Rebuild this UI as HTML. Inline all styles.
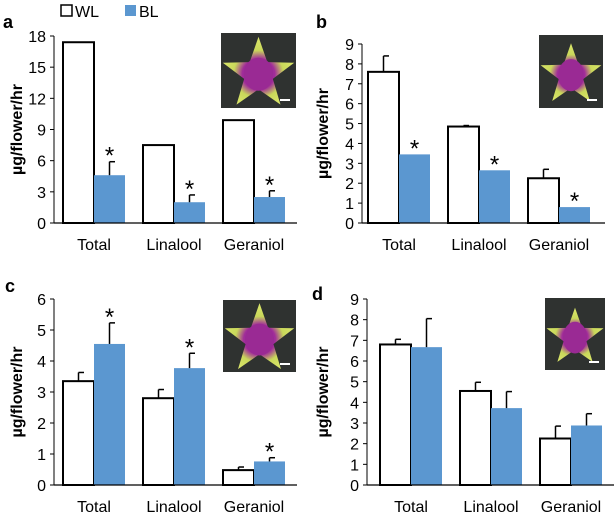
<!DOCTYPE html>
<html><head><meta charset="utf-8">
<style>
body{margin:0;background:#fff;}
svg text{font-family:"Liberation Sans",sans-serif;}
</style></head>
<body>
<svg id="chart" width="614" height="516" viewBox="0 0 614 516" xmlns="http://www.w3.org/2000/svg">
<defs>
<radialGradient id="fl" cx="50%" cy="55%" r="50%">
<stop offset="0" stop-color="#c070c0"/><stop offset="0.45" stop-color="#a02a9a"/><stop offset="0.7" stop-color="#c9d85a"/><stop offset="1" stop-color="#d8e468"/>
</radialGradient>
</defs>
<g>
<rect x="61" y="5" width="11" height="11" fill="#fff" stroke="#000" stroke-width="1.5"/>
<text x="75" y="17" font-size="16">WL</text>
<rect x="125" y="5" width="11" height="11" fill="#5b97d0"/>
<text x="139" y="17" font-size="16">BL</text>
</g>
</svg>
<script>
const categories=["Total","Linalool","Geraniol"];
const aWL=[17.4,7.5,9.9], aWLerr=[null,null,null], aBL=[4.6,2.0,2.5], aBLerr=[5.9,2.7,3.1], aTicks=[0,3,6,9,12,15,18], aStar=[true,true,true];
const bWL=[7.6,4.85,2.25], bWLerr=[8.4,4.9,2.7], bBL=[3.45,2.65,0.8], bBLerr=[null,null,null], bTicks=[0,1,2,3,4,5,6,7,8,9], bStar=[true,true,true];
const cWL=[3.35,2.8,0.48], cWLerr=[3.63,3.08,0.58], cBL=[4.55,3.77,0.76], cBLerr=[5.23,4.25,0.88], cTicks=[0,1,2,3,4,5,6], cStar=[true,true,true];
const dWL=[6.8,4.55,2.25], dWLerr=[7.05,4.97,2.85], dBL=[6.67,3.72,2.88], dBLerr=[8.05,4.52,3.45], dTicks=[0,1,2,3,4,5,6,7,8,9], dStar=[false,false,false];

const svg=document.getElementById('chart');
const NS='http://www.w3.org/2000/svg';
function mk(tag,attrs,parent){const e=document.createElementNS(NS,tag);for(const k in attrs)e.setAttribute(k,attrs[k]);parent.appendChild(e);return e;}

function panel(p){
  const g=mk('g',{},svg);
  
  
  const max=p.ticks[p.ticks.length-1];
  const y=v=>p.y0-(v/max)*(p.y0-p.yTop);
  const x=i=>p.x0+i*80;
  // photo
  const [px,py,pw,phh]=p.ph;
  const ph=mk('rect',{x:px,y:py,width:pw,height:phh,fill:'#2f3230'},g);
  
  
  const cx=px+pw/2, cy=py+phh*0.55, R=pw*0.5, r=pw*0.2;
  let pts=[];
  for(let k=0;k<10;k++){const a=-Math.PI/2+k*Math.PI/5;const rr=k%2?r:R;pts.push((cx+rr*Math.cos(a)).toFixed(1)+','+(cy+rr*Math.sin(a)).toFixed(1));}
  mk('polygon',{points:pts.join(' '),fill:'url(#fl)','stroke-linejoin':'round'},g);
  mk('ellipse',{cx:cx,cy:cy,rx:pw*0.2,ry:phh*0.22,fill:'#9a2a94'},g);
  mk('rect',{x:px+pw-16,y:py+phh-9,width:10,height:2,fill:'#fff'},g);
  // letter
  const L=mk('text',{x:p.lx,y:p.ly,'font-size':18,'font-weight':'bold'},g);L.textContent=p.letter;
  
  
  // y label
  const yl=mk('text',{x:0,y:0,'font-size':16,'font-weight':'bold','text-anchor':'middle',transform:`translate(${p.ylx},${(p.y0+p.yTop)/2}) rotate(-90)`},g);
  yl.textContent='µg/flower/hr';
  
  
  // ticks
  p.ticks.forEach(t=>{
    mk('line',{x1:p.ax-4,x2:p.ax,y1:y(t),y2:y(t),stroke:'#000','stroke-width':1},g);
    const tt=mk('text',{x:p.ax-8,y:y(t)+6,'font-size':16,'text-anchor':'end'},g);tt.textContent=t;
    
    
  });
  // bars
  categories.forEach((c,i)=>{
    const bx=x(i);
    const w=mk('rect',{x:bx+1,y:y(p.wl[i]),width:31,height:p.y0-y(p.wl[i]),fill:'#fff',stroke:'#000','stroke-width':2},g);
    
    
    if(p.wle[i]!=null){
      mk('line',{x1:bx+16.5,x2:bx+16.5,y1:y(p.wle[i]),y2:y(p.wl[i]),stroke:'#000','stroke-width':1.5},g);
      mk('line',{x1:bx+16.5,x2:bx+22,y1:y(p.wle[i]),y2:y(p.wle[i]),stroke:'#000','stroke-width':1.5},g);
    }
    const b=mk('rect',{x:bx+32,y:y(p.bl[i]),width:31,height:p.y0-y(p.bl[i]),fill:'#5b97d0'},g);
    
    
    let top=y(p.bl[i]);
    if(p.ble[i]!=null){
      mk('line',{x1:bx+47.5,x2:bx+47.5,y1:y(p.ble[i]),y2:y(p.bl[i]),stroke:'#000','stroke-width':1.5},g);
      mk('line',{x1:bx+47.5,x2:bx+53,y1:y(p.ble[i]),y2:y(p.ble[i]),stroke:'#000','stroke-width':1.5},g);
      top=y(p.ble[i]);
    }
    if(p.star[i]){
      const s=mk('text',{x:bx+47.5,y:top+2,'font-size':24,'text-anchor':'middle'},g);s.textContent='*';
      
      
    }
    const cl=mk('text',{x:bx+32,y:p.y0+27,'font-size':16,'text-anchor':'middle'},g);cl.textContent=c;
    
    
  });
  // axes
  mk('line',{x1:p.ax,x2:p.ax,y1:p.yTop,y2:p.y0,stroke:'#000','stroke-width':1},g);
  mk('line',{x1:p.ax,x2:p.axR,y1:p.y0,y2:p.y0,stroke:'#000','stroke-width':1.3},g);
}
panel({letter:'a',wl:aWL,wle:aWLerr,bl:aBL,ble:aBLerr,ticks:aTicks,star:aStar,ax:54,axR:297,x0:62,y0:223,yTop:36,lx:3,ly:28,ylx:22,ph:[221,33,75,75]});
panel({letter:'b',wl:bWL,wle:bWLerr,bl:bBL,ble:bBLerr,ticks:bTicks,star:bStar,ax:362,axR:605,x0:367,y0:223,yTop:44,lx:316,ly:28,ylx:328,ph:[539,35,64,73]});
panel({letter:'c',wl:cWL,wle:cWLerr,bl:cBL,ble:cBLerr,ticks:cTicks,star:cStar,ax:54,axR:297,x0:62,y0:485,yTop:299,lx:5,ly:292,ylx:22,ph:[223,300,73,72]});
panel({letter:'d',wl:dWL,wle:dWLerr,bl:dBL,ble:dBLerr,ticks:dTicks,star:dStar,ax:367,axR:614,x0:379,y0:485,yTop:299,lx:312,ly:300,ylx:328,ph:[545,298,60,72]});
</script>
</body></html>
